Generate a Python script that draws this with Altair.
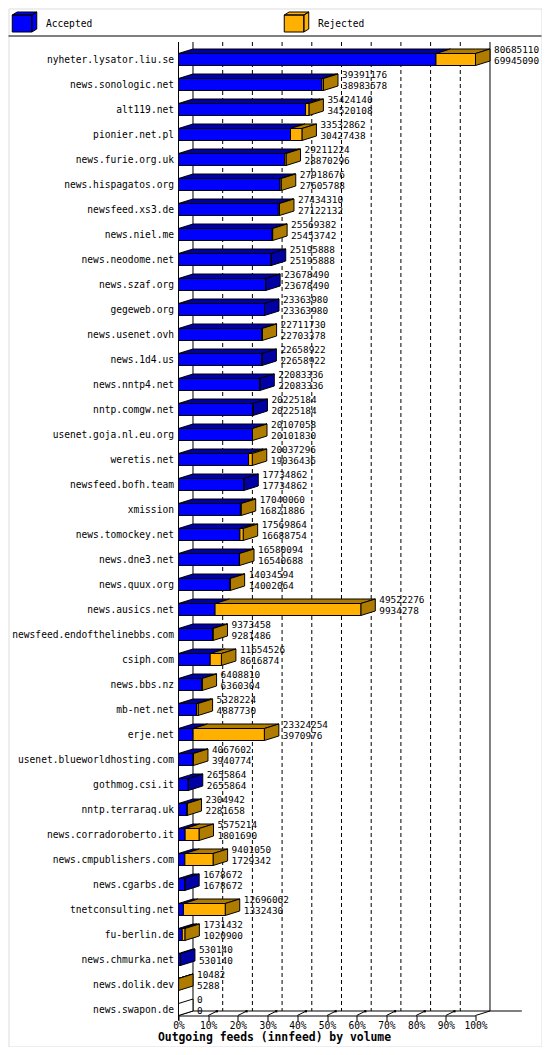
import altair as alt
import pandas as pd

# ---------------- data ----------------
hosts = ["nyheter.lysator.liu.se", "news.sonologic.net", "alt119.net", "pionier.net.pl",
         "news.furie.org.uk", "news.hispagatos.org", "newsfeed.xs3.de", "news.niel.me",
         "news.neodome.net", "news.szaf.org", "gegeweb.org", "news.usenet.ovh", "news.1d4.us",
         "news.nntp4.net", "nntp.comgw.net", "usenet.goja.nl.eu.org", "weretis.net",
         "newsfeed.bofh.team", "xmission", "news.tomockey.net", "news.dne3.net", "news.quux.org",
         "news.ausics.net", "newsfeed.endofthelinebbs.com", "csiph.com", "news.bbs.nz",
         "mb-net.net", "erje.net", "usenet.blueworldhosting.com", "gothmog.csi.it",
         "nntp.terraraq.uk", "news.corradoroberto.it", "news.cmpublishers.com", "news.cgarbs.de",
         "tnetconsulting.net", "fu-berlin.de", "news.chmurka.net", "news.dolik.dev", "news.swapon.de"]
offered = [80685110, 39391176, 35424140, 33532862, 29211224, 27918676, 27434310, 25569382,
           25195888, 23678490, 23363980, 22711730, 22658922, 22083336, 20225184, 20107058, 20037296,
           17734862, 17040060, 17569864, 16580094, 14034594, 49522276, 9373458, 11654526, 6408810,
           5328224, 23324254, 4067602, 2655864, 2304942, 5575214, 9401050, 1678672, 12696062,
           1731432, 530140, 10482, 0]
accepted = [69945090, 38983578, 34520108, 30427438, 28870296, 27605788, 27122132, 25453742,
            25195888, 23678490, 23363980, 22703378, 22658922, 22083336, 20225184, 20101830, 19036436,
            17734862, 16821886, 16688754, 16540688, 14002064, 9934278, 9281486, 8616874, 6360304,
            4887730, 3970976, 3940774, 2655864, 2281658, 1801690, 1729342, 1678672, 1332430,
            1020900, 530140, 5288, 0]
series_names = ["Accepted", "Rejected"]
tick_values = list(range(0, 101, 10))
title_text = "Outgoing feeds (innfeed) by volume"

# ---------------- style / layout constants ----------------
MONO = "DejaVu Sans Mono"
BLUE, DBLUE = "#0000ff", "#0000a4"
ORANGE, DORANGE = "#ffb000", "#b07c00"
W, H = 533, 1038
DX = 4.88      # 3-D depth, horizontal (in % units)
FH = 0.24      # half height of front face (rows)
DH = 0.18      # 3-D depth, vertical (rows)
TOP = -0.70    # top of the plot walls (rows)
N = len(hosts)
FLOOR_F = N - 1 + FH
FLOOR_B = FLOOR_F - DH

xs = alt.Scale(domain=[0, 100], range=[170, 467])
ys = alt.Scale(domain=[0, N - 1], range=[51, 1001])

x_axis = alt.Axis(values=tick_values, labelExpr="datum.value + '%'", grid=False,
                  domainColor="black", domainWidth=1, tickColor="black", tickWidth=1, tickSize=5,
                  labelColor="black", labelFont=MONO, labelFontSize=9.6, labelBaseline="middle",
                  labelPadding=5.3, labelFlush=False, labelOverlap=False, offset=-31,
                  title=title_text, titleFont=MONO, titleFontSize=11.4, titleFontWeight="bold",
                  titleColor="black", titleX=265.5, titleY=22, titleAlign="center",
                  titleBaseline="middle")


def X(f):
    return alt.X(f, scale=xs, axis=x_axis)


def Y(f):
    return alt.Y(f, scale=ys, axis=None, stack=None)


# ---------------- derived geometry ----------------
MAXV = max(offered)
front, tops, sides, vals, names = [], [], [], [], []
for i, (h, o, a) in enumerate(zip(hosts, offered, accepted)):
    pt = o / MAXV * 100
    pa = a / MAXV * 100
    front.append(dict(x=0, x2=pa, y=i - FH, y2=i + FH, series=series_names[0]))
    front.append(dict(x=pa, x2=pt, y=i - FH, y2=i + FH, series=series_names[1]))
    for k, (x0, w, col) in enumerate([(0, pa, DBLUE), (pa, pt - pa, DORANGE)]):
        if w <= 0:
            continue
        yb = i - FH
        pts = sorted({x0, x0 + min(w, DX), x0 + max(w, DX), x0 + w + DX})
        for x in pts:
            lo = yb if x <= x0 + w + 1e-12 else yb - DH * (x - x0 - w) / DX
            up = yb - DH * (x - x0) / DX if x <= x0 + DX + 1e-12 else yb - DH
            tops.append(dict(pid=f"t{i}_{k}", x=x, y=up, y2=lo, fill=col))
    scol = DORANGE if o > a else (DBLUE if a > 0 else "white")
    sides.append(dict(pid=f"s{i}", x=pt, y=i - FH, y2=i + FH, fill=scol))
    sides.append(dict(pid=f"s{i}", x=pt + DX, y=i - FH - DH, y2=i + FH - DH, fill=scol))
    vals.append(dict(x=pt + DX + 1.35, yu=i - 0.38, yl=i + 0.05, tu=str(o), tl=str(a)))
    names.append(dict(x=-1.52, y=i, host=h))

front = pd.DataFrame(front)
tops = pd.DataFrame(tops)
sides = pd.DataFrame(sides)
vals = pd.DataFrame(vals)
names = pd.DataFrame(names)

grid_d = pd.DataFrame([dict(x=p + DX, y=TOP, y2=FLOOR_B) for p in tick_values[1:-1]])
grid_s = pd.DataFrame([dict(x=p + DX, y=TOP, y2=FLOOR_B) for p in (0, 100)])
frame = pd.DataFrame([
    dict(x=0, x2=0, y=TOP, y2=FLOOR_F + 0.2),
    dict(x=DX, x2=115.6, y=FLOOR_B, y2=FLOOR_B),
    dict(x=0, x2=DX, y=FLOOR_F, y2=FLOOR_B),
    dict(x=100, x2=100 + DX, y=FLOOR_F, y2=FLOOR_B),
] + [dict(x=p, x2=p + 2.7, y=FLOOR_F, y2=FLOOR_B + 0.02) for p in tick_values[1:-1]])
dots = pd.DataFrame([dict(x=p + 2.9, y=FLOOR_B + 0.01) for p in tick_values[1:-1]])

# ---------------- layers ----------------
l_grid_d = alt.Chart(grid_d).mark_rule(color="black", strokeWidth=1, strokeDash=[4, 3]).encode(
    x=X("x:Q"), y=Y("y:Q"), y2="y2:Q")
l_grid_s = alt.Chart(grid_s).mark_rule(color="black", strokeWidth=1).encode(
    x=X("x:Q"), y=Y("y:Q"), y2="y2:Q")
l_frame = alt.Chart(frame).mark_rule(color="black", strokeWidth=1).encode(
    x=X("x:Q"), x2="x2:Q", y=Y("y:Q"), y2="y2:Q")
l_dots = alt.Chart(dots).mark_square(color="black", size=5, opacity=1).encode(
    x=X("x:Q"), y=Y("y:Q"))

l_tops = alt.Chart(tops).mark_area(orient="vertical", interpolate="linear", stroke="black",
                                   strokeWidth=1, opacity=1).encode(
    x=X("x:Q"), y=Y("y:Q"), y2="y2:Q", detail="pid:N",
    fill=alt.Fill("fill:N", scale=None))
l_sides = alt.Chart(sides).mark_area(orient="vertical", interpolate="linear", stroke="black",
                                     strokeWidth=1, opacity=1).encode(
    x=X("x:Q"), y=Y("y:Q"), y2="y2:Q", detail="pid:N",
    fill=alt.Fill("fill:N", scale=None))

cube = ("M-0.98,-0.72L0.59,-0.72L0.59,0.64L-0.98,0.64Z"
        "M-0.98,-0.72L-0.59,-0.96L0.98,-0.96L0.59,-0.72Z"
        "M0.59,-0.72L0.98,-0.96L0.98,0.4L0.59,0.64Z")
legend = alt.Legend(orient="none", legendX=3, legendY=2.5, direction="horizontal", title=None,
                    symbolType=cube, symbolSize=625, symbolStrokeColor="black",
                    symbolStrokeWidth=1, symbolOpacity=1, labelFont=MONO, labelFontSize=9.6,
                    labelColor="black", labelOffset=8.5, columnPadding=189, padding=0)
l_front = alt.Chart(front).mark_rect(stroke="black", strokeWidth=1, opacity=1).encode(
    x=X("x:Q"), x2="x2:Q", y=Y("y:Q"), y2="y2:Q",
    color=alt.Color("series:N", scale=alt.Scale(domain=series_names, range=[BLUE, ORANGE]),
                    legend=legend))

l_vu = alt.Chart(vals).mark_text(align="left", baseline="middle", font=MONO, fontSize=9.4,
                                 color="black").encode(x=X("x:Q"), y=Y("yu:Q"), text="tu:N")
l_vl = alt.Chart(vals).mark_text(align="left", baseline="middle", font=MONO, fontSize=9.4,
                                 color="black").encode(x=X("x:Q"), y=Y("yl:Q"), text="tl:N")
l_names = alt.Chart(names).mark_text(align="right", baseline="middle", font=MONO, fontSize=9.6,
                                     color="black").encode(x=X("x:Q"), y=Y("y:Q"), text="host:N")

l_sep = alt.Chart(alt.Data(values=[{"k": 0}])).mark_rule(color="black", strokeWidth=1).encode(
    x=alt.value(0), x2=alt.value(W), y=alt.value(27.5))

chart = alt.layer(l_grid_d, l_grid_s, l_frame, l_dots, l_tops, l_sides, l_front,
                  l_vu, l_vl, l_names, l_sep).properties(
    width=W, height=H, padding=0.5, autosize=alt.AutoSizeParams(type="none")
).configure_view(stroke="black", strokeWidth=1).configure(background="white")

chart.save("out.html", embed_options={"renderer": "svg", "actions": False})
